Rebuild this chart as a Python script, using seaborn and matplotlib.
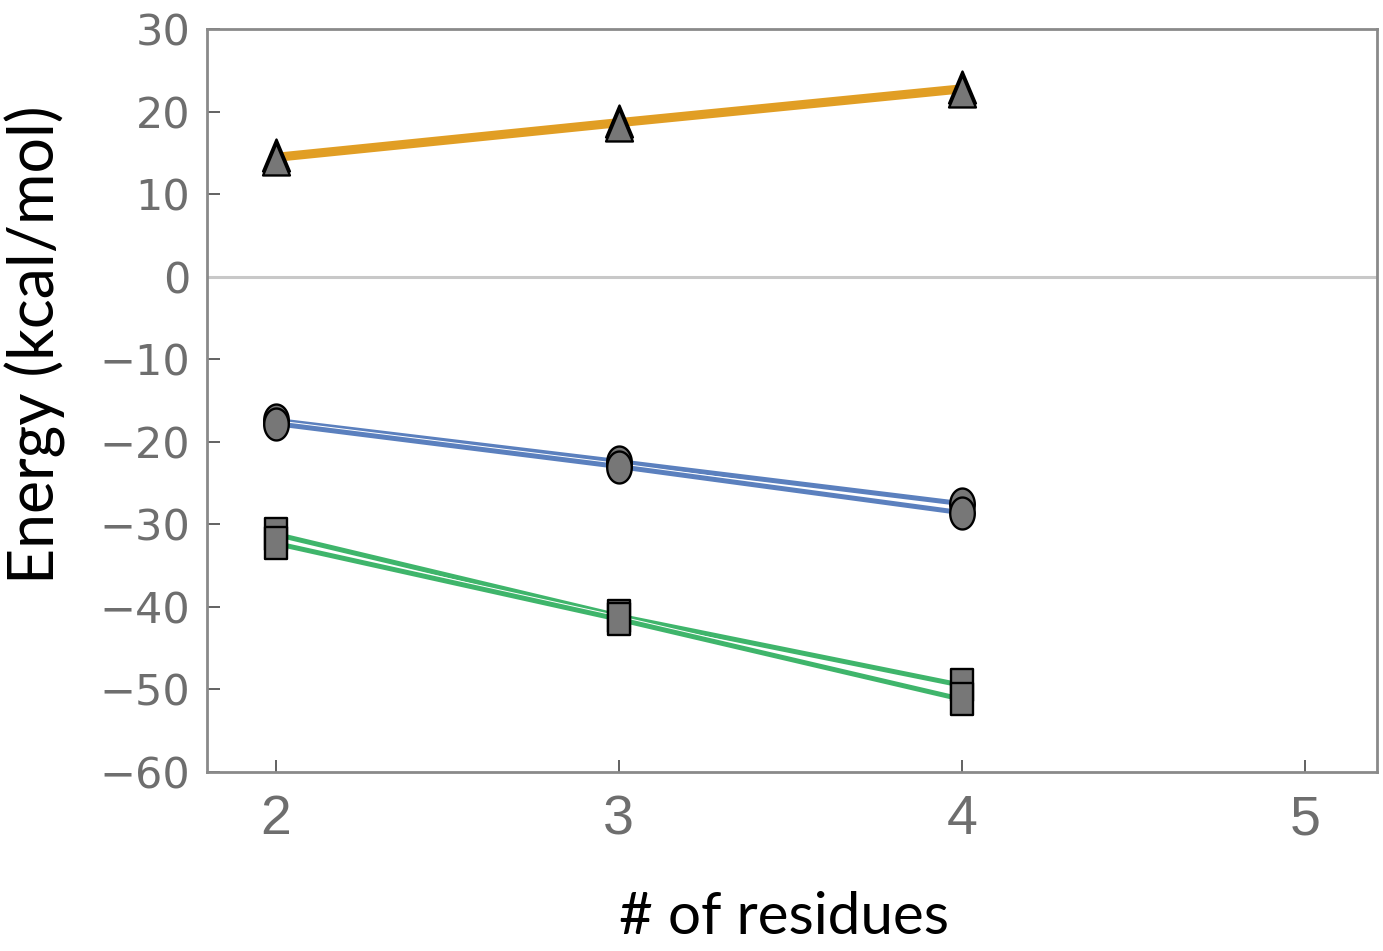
import numpy as np
import pandas as pd
import matplotlib
matplotlib.use("Agg")
import matplotlib.pyplot as plt
import matplotlib.patheffects as pe
from matplotlib.path import Path
import seaborn as sns

# Energies (kcal/mol) versus chain length
residues = [2, 3, 4]
tri_a = [14.7, 18.9, 23.0]
tri_b = [14.2, 18.4, 22.5]
circ_a = [-17.4, -22.4, -27.5]
circ_b = [-17.8, -23.0, -28.6]
sq_a = [-31.2, -41.1, -49.5]
sq_b = [-32.3, -41.5, -51.2]

x_ticks = [2, 3, 4, 5]
y_ticks = [30, 20, 10, 0, -10, -20, -30, -40, -50, -60]

sns.set_theme(style="white")

# Slightly tall marker shapes
def ellipse_path(rx, n=60):
    t = np.linspace(0, 2 * np.pi, n)
    verts = np.column_stack([rx * np.cos(t), np.sin(t)])
    return Path(verts, closed=True)

square_m = Path([(-0.72, -1), (0.72, -1), (0.72, 1), (-0.72, 1), (-0.72, -1)], closed=True)
circle_m = ellipse_path(0.77)
triangle_m = Path([(0, 1), (-0.84, -1), (0.84, -1), (0, 1)], closed=True)

fig = plt.figure(figsize=(13.83, 9.51), dpi=100)
ax = fig.add_axes([207 / 1383, 1 - 772 / 951, 1170 / 1383, 743 / 951])

ax.axhline(0, color="#c8c8c8", lw=2.2, zorder=1)

orange = "#E19E24"
blue = "#5B80BE"
green = "#3FB56B"
halo = [pe.withStroke(linewidth=5.0, foreground="white")]

series = [
    (tri_a, orange, triangle_m, None),
    (tri_b, orange, triangle_m, None),
    (circ_a, blue, circle_m, halo),
    (circ_b, blue, circle_m, halo),
    (sq_a, green, square_m, halo),
    (sq_b, green, square_m, halo),
]

# lines first
for vals, col, mk, eff in series:
    df = pd.DataFrame({"n": residues, "E": vals})
    sns.lineplot(data=df, x="n", y="E", ax=ax, color=col, lw=3.6,
                 path_effects=eff, zorder=2)

# markers on top
for vals, col, mk, eff in series:
    df = pd.DataFrame({"n": residues, "E": vals})
    sns.scatterplot(data=df, x="n", y="E", ax=ax, marker=mk, s=23 ** 2,
                    color="#777777", edgecolor="black", linewidth=1.7, zorder=3)

ax.set_xlim(1.8, 5.21)
ax.set_ylim(-60, 30)
ax.set_xticks(x_ticks)
ax.set_yticks(y_ticks)

for s in ax.spines.values():
    s.set_color("#8a8a8a")
    s.set_linewidth(2.0)

ax.tick_params(axis="both", direction="in", length=9, width=1.3, color="#555555",
               labelcolor="#6e6e6e", left=True, bottom=True)
ax.tick_params(axis="y", pad=12)
ax.tick_params(axis="x", pad=16)
for lab in ax.get_yticklabels():
    lab.set_fontfamily("DejaVu Sans")
    lab.set_fontsize(31)
for lab in ax.get_xticklabels():
    lab.set_fontfamily(["Liberation Sans", "DejaVu Sans"])
    lab.set_fontsize(40)

ax.set_xlabel("# of residues", fontsize=42, family=["Lato", "DejaVu Sans"], color="black")
ax.set_ylabel("Energy (kcal/mol)", fontsize=45, family=["Lato", "DejaVu Sans"], color="black")
ax.xaxis.set_label_coords(0.493, (772 - 917) / 743)
ax.xaxis.label.set_va("center")
ax.yaxis.set_label_coords((35 - 207) / 1170, (772 - 345) / 743)
ax.yaxis.label.set_va("center")

fig.savefig("out.png", dpi=100)
